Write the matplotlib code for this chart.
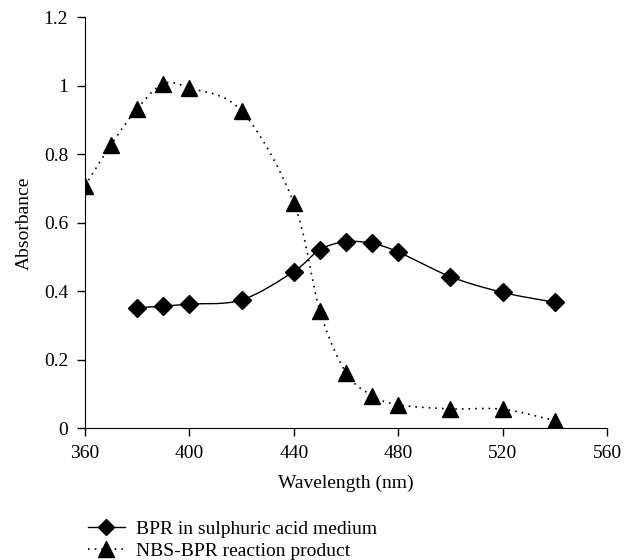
import numpy as np
import matplotlib.pyplot as plt

plt.rcParams["font.family"] = ["Liberation Serif", "DejaVu Serif"]
plt.rcParams["font.size"] = 14

# absorbance spectra
wl_bpr = [380, 390, 400, 420, 440, 450, 460, 470, 480, 500, 520, 540]
abs_bpr = [0.352, 0.357, 0.363, 0.375, 0.458, 0.522, 0.545, 0.540, 0.515, 0.443, 0.397, 0.368]

wl_nbs = [360, 370, 380, 390, 400, 420, 440, 450, 460, 470, 480, 500, 520, 540]
abs_nbs = [0.708, 0.828, 0.933, 1.006, 0.994, 0.927, 0.659, 0.343, 0.163, 0.096, 0.069, 0.057, 0.056, 0.023]


def smooth(x, y, n=30):
    # catmull-rom curve through the points, like excel's smoothed lines
    x = np.asarray(x, float)
    y = np.asarray(y, float)
    px = np.concatenate([[2 * x[0] - x[1]], x, [2 * x[-1] - x[-2]]])
    py = np.concatenate([[2 * y[0] - y[1]], y, [2 * y[-1] - y[-2]]])
    xs, ys = [], []
    t = np.linspace(0, 1, n)
    for i in range(1, len(px) - 2):
        for p, out in ((px, xs), (py, ys)):
            p0, p1, p2, p3 = p[i - 1], p[i], p[i + 1], p[i + 2]
            out.append(0.5 * (2 * p1 + (-p0 + p2) * t
                              + (2 * p0 - 5 * p1 + 4 * p2 - p3) * t ** 2
                              + (-p0 + 3 * p1 - 3 * p2 + p3) * t ** 3))
    return np.concatenate(xs), np.concatenate(ys)


fig = plt.figure(figsize=(6.24, 5.6), dpi=100)
ax = fig.add_axes([0.136, 0.235, 0.837, 0.734])

sx, sy = smooth(wl_bpr, abs_bpr)
ax.plot(sx, sy, color="black", lw=1.0)
ax.plot(wl_bpr, abs_bpr, ls="none", marker="D", ms=9, color="black")
tx, ty = smooth(wl_nbs, abs_nbs)
ax.plot(tx, ty, color="black", lw=1.2, ls=(0, (1, 3)))
ax.plot(wl_nbs, abs_nbs, ls="none", marker="^", ms=12, color="black")

# legend proxies
ax.plot([], [], color="black", lw=1.0, marker="D", ms=8, label="BPR in sulphuric acid medium")
ax.plot([], [], color="black", lw=1.2, ls=(0, (1, 3)), marker="^", ms=11, label="NBS-BPR reaction product")
handles, labels = ax.get_legend_handles_labels()
fig.legend(handles, labels, loc="upper left", bbox_to_anchor=(0.125, 0.088),
           frameon=False, handlelength=1.9, labelspacing=0.22, handletextpad=0.6,
           borderpad=0.0)

ax.set_xlim(360, 560)
ax.set_ylim(0, 1.2)
ax.set_xticks([360, 400, 440, 480, 520, 560])
ax.set_yticks([0, 0.2, 0.4, 0.6, 0.8, 1.0, 1.2])
ax.set_yticklabels(["0", "0.2", "0.4", "0.6", "0.8", "1", "1.2"])
ax.spines["top"].set_visible(False)
ax.spines["right"].set_visible(False)
ax.tick_params(direction="out", length=6, width=1, pad=6)
ax.set_xlabel("Wavelength (nm)", labelpad=9)
ax.set_ylabel("Absorbance", labelpad=8)

fig.savefig("out.png", dpi=100)
